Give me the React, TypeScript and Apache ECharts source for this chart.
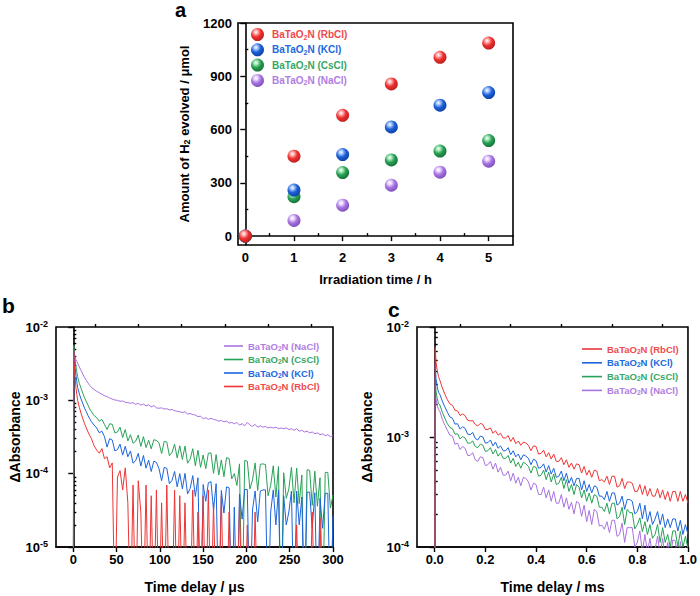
import React, { useEffect, useRef } from 'react';
import * as echarts from 'echarts';

const FONT = '"Liberation Sans", Arial, Helvetica, sans-serif';

// ---------- Panel a : H2 evolution ----------
const hours = [0, 1, 2, 3, 4, 5];
const h2RbCl = [0, 450, 680, 857, 1007, 1087];
const h2KCl = [0, 259, 459, 615, 737, 808];
const h2CsCl = [0, 222, 358, 429, 479, 538];
const h2NaCl = [0, 88, 174, 287, 360, 422];
const aXTicks = [0, 1, 2, 3, 4, 5];
const aXMinor = [0.5, 1.5, 2.5, 3.5, 4.5];
const aYTicks = [0, 300, 600, 900, 1200];
const aYMinor = [150, 450, 750, 1050];

// ---------- Panel b : µs decays (ΔAbs in units of 1e-5) ----------
const tB = [
  0, 0.5, 1, 2, 3, 4, 5, 7, 9, 11,
  13, 15, 17, 19, 21, 24, 27, 30, 33, 36,
  39, 42, 45, 48, 51, 54, 57, 60, 63, 66,
  69, 72, 75, 78, 81, 84, 87, 90, 93, 96,
  99, 102, 105, 108, 111, 114, 117, 120, 123, 126,
  129, 132, 135, 138, 141, 144, 147, 150, 153, 156,
  159, 162, 165, 168, 171, 174, 177, 180, 183, 186,
  189, 192, 195, 198, 201, 204, 207, 210, 213, 216,
  219, 222, 225, 228, 231, 234, 237, 240, 243, 246,
  249, 252, 255, 258, 261, 264, 267, 270, 273, 276,
  279, 282, 285, 288, 291, 294, 297, 300,
];
const bNaCl = [
  0.1, 460, 430, 390, 360, 340, 322, 285, 255, 228,
  205, 188, 172, 160, 150, 140, 133, 127, 121, 116,
  112, 108, 104, 101, 100, 97, 98, 94, 93, 91,
  93, 88, 91, 86, 89, 84, 87, 81, 85, 79,
  78, 79, 76, 77, 74, 75, 72, 71, 70, 68,
  70, 65, 66, 64, 63, 60, 61, 56, 58, 55,
  57, 55, 54, 52, 53, 51, 52, 49, 50, 48,
  50, 46, 48, 45, 50, 46, 44, 47, 43, 45,
  43, 44, 42, 43, 42, 43, 41, 42, 41, 42,
  40, 41, 39, 41, 38, 39, 37, 38, 36, 37,
  35, 36, 34, 35, 33, 34, 32, 33,
];
const bCsCl = [
  0.1, 560, 480, 360, 290, 245, 210, 170, 145, 125,
  108, 96, 86, 76, 70, 62, 58, 52, 55, 47,
  40, 48, 47, 36, 37, 43, 31, 40, 28, 34,
  26, 27.6, 33.6, 23.5, 32, 22.7, 28.6, 21.8, 29, 28.4,
  26.4, 18.8, 27.6, 27, 17.6, 19.4, 25.2, 16.4, 24, 15.6,
  23.8, 13.9, 15.8, 21.9, 12.8, 20.9, 12.2, 18, 11.7, 19,
  19.2, 10.1, 18.2, 9.6, 15.4, 9.1, 16.5, 16.1, 8.5, 10,
  6.9, 13.6, 0.1, 15.1, 14.8, 6.2, 8.2, 14, 5.9, 13.4,
  13.6, 13.3, 5, 6.9, 12.8, 4.8, 12.5, 0.1, 10.3, 4.6,
  6.2, 12.2, 4, 11.9, 3.9, 9.6, 0.1, 11.3, 11.1, 3.7,
  10.8, 3.6, 8.8, 0.1, 10.4, 10.4, 3.4, 5.1,
];
const bKCl = [
  0.1, 470, 400, 290, 220, 180, 150, 122, 104, 90,
  78, 70, 62, 56, 51, 46, 42, 36, 38, 32,
  23, 30, 28.8, 20.4, 21.3, 25.3, 17.9, 23.6, 17, 20.4,
  13.9, 15, 18.9, 12.7, 17.7, 11.9, 15.3, 10.7, 14.8, 14.2,
  11.7, 8, 12.2, 11.8, 7.3, 8.1, 10.7, 6.6, 10, 6.2,
  10.1, 5.3, 6.3, 9.4, 4.9, 8.8, 0.1, 7.1, 4.2, 7.5,
  7.8, 3.2, 7.3, 0.1, 5.9, 2.9, 6.6, 6.4, 0.1, 3.5,
  0.1, 5.3, 2.4, 6.1, 6.1, 0.1, 3.2, 5.8, 2.2, 5.8,
  6, 6, 0.1, 3, 6, 2, 6, 0.1, 5, 2,
  3, 5.8, 0.1, 5.8, 2, 4.8, 0.1, 5.6, 5.6, 1.8,
  5.5, 0.1, 4.6, 1.8, 5.4, 5.4, 0.1, 2.7,
];
const bRbCl = [
  0.1, 470, 330, 210, 150, 120, 100, 80, 66, 56,
  48, 42, 37, 33, 30, 24, 21, 19, 22, 16,
  17, 12, 14, 0.1, 9, 11, 6, 12, 4, 0.1,
  7, 0.1, 8, 3, 0.1, 7, 0.1, 5, 0.1, 6,
  0.1, 4, 0.1, 7, 0.1, 0.1, 6, 0.1, 5, 0.1,
  4, 0.1, 0.1, 6, 0.1, 3, 0.1, 5, 0.1, 6,
  0.1, 4, 0.1, 0.1, 5, 0.1, 0.1, 3, 0.1, 0.1,
  0.1, 4, 0.1, 0.1, 2, 0.1, 0.1, 3, 0.1, 0.1,
  0.1, 0.1, 0.1, 0.1, 0.1, 0.1, 0.1, 0.1, 0.1, 0.1,
  0.1, 0.1, 0.1, 2, 0.1, 0.1, 0.1, 0.1, 0.1, 3,
  0.1, 0.1, 2.5, 0.1, 0.1, 0.1, 0.1, 0.1,
];
const bXTicks = [0, 50, 100, 150, 200, 250, 300];
const bXMinor = [25, 75, 125, 175, 225, 275];
const bYMinor = [2e-5, 3e-5, 4e-5, 5e-5, 6e-5, 7e-5, 8e-5, 9e-5, 2e-4, 3e-4, 4e-4, 5e-4, 6e-4, 7e-4, 8e-4, 9e-4, 2e-3, 3e-3, 4e-3, 5e-3, 6e-3, 7e-3, 8e-3, 9e-3];

// ---------- Panel c : ms decays (ΔAbs in units of 1e-5) ----------
const tC = [
  0, 0.002, 0.005, 0.01, 0.015, 0.02, 0.03, 0.04, 0.05, 0.06,
  0.07, 0.08, 0.09, 0.1, 0.11, 0.12, 0.13, 0.14, 0.15, 0.16,
  0.17, 0.18, 0.19, 0.2, 0.21, 0.22, 0.23, 0.24, 0.25, 0.26,
  0.27, 0.28, 0.29, 0.3, 0.31, 0.32, 0.33, 0.34, 0.35, 0.36,
  0.37, 0.38, 0.39, 0.4, 0.41, 0.42, 0.43, 0.44, 0.45, 0.46,
  0.47, 0.48, 0.49, 0.5, 0.51, 0.52, 0.53, 0.54, 0.55, 0.56,
  0.57, 0.58, 0.59, 0.6, 0.61, 0.62, 0.63, 0.64, 0.65, 0.66,
  0.67, 0.68, 0.69, 0.7, 0.71, 0.72, 0.73, 0.74, 0.75, 0.76,
  0.77, 0.78, 0.79, 0.8, 0.81, 0.82, 0.83, 0.84, 0.85, 0.86,
  0.87, 0.88, 0.89, 0.9, 0.91, 0.92, 0.93, 0.94, 0.95, 0.96,
  0.97, 0.98, 0.99, 1.0,
];
const cRbCl = [
  1, 650, 480, 400, 355, 330, 280, 245, 218, 200,
  194, 175, 173, 157, 162, 156, 142, 140, 141, 130,
  126, 133, 130, 117, 117, 121, 108, 114, 104, 108,
  98, 98, 103, 91, 99, 87, 92, 84, 90, 88,
  84, 75, 83, 82, 70, 71, 76, 66, 72, 63,
  70, 60, 60, 65, 56, 62, 53, 58, 51, 57,
  56, 47, 54, 45, 50, 43, 50, 49, 40, 41,
  39, 44, 37, 44, 44, 35, 36, 42, 34, 39,
  39, 38, 32, 32, 37, 30, 36, 29, 34, 29,
  29, 34, 28, 33, 27, 32, 26, 32, 32, 26,
  32, 26, 30, 25,
];
const cKCl = [
  1, 460, 340, 285, 255, 245, 212, 188, 168, 152,
  148, 131, 132, 118, 124, 120, 106, 105, 110, 97,
  94, 102, 100, 88, 89, 94, 83, 90, 79, 83,
  75, 75, 80, 69, 75, 66, 70, 62, 69, 67,
  64, 56, 63, 61, 52, 53, 57, 48, 55, 46,
  52, 43, 44, 49, 40, 47, 38, 43, 36, 42,
  42, 33, 40, 32, 37, 31, 36, 35, 29, 29,
  27, 32, 26, 31, 31, 24, 25, 29, 22, 27,
  27, 26, 20, 21, 25, 18, 24, 17, 21, 16,
  18, 21, 16, 20, 15, 18, 15, 18, 18, 14,
  17.5, 13, 16, 13,
];
const cCsCl = [
  1, 350, 262, 222, 202, 196, 168, 148, 132, 122,
  119, 106, 107, 96, 101, 98, 88, 88, 92, 82,
  80, 86, 84, 74, 75, 80, 70, 77, 67, 72,
  64, 64, 68, 58, 64, 54, 59, 52, 59, 57,
  54, 47, 54, 53, 44, 45, 50, 41, 48, 39,
  46, 37, 38, 43, 34, 41, 32, 37, 30, 37,
  35, 28, 33, 26, 31, 25, 30, 29, 23, 23,
  21, 25, 20, 25, 25, 18, 19, 23, 16, 22,
  20.5, 20.5, 14.6, 16, 18.4, 13.8, 17, 13, 16, 12,
  13, 16, 11, 15, 11, 13, 10, 14, 14, 10,
  14, 10, 12.5, 9.6,
];
const cNaCl = [
  1, 300, 222, 192, 178, 172, 145, 128, 115, 104,
  102, 86, 88, 77, 82, 79, 68, 68, 72, 62,
  60, 66, 65, 55, 56, 60, 51, 58, 48, 53,
  45, 45, 49, 40, 47, 38, 43, 36, 43, 42,
  39, 33, 38, 37, 30, 30, 35, 28, 33, 26,
  32, 25, 25, 30, 23, 28, 22, 25.5, 20, 26,
  25, 19, 24, 17, 21.5, 16, 22, 21, 15.5, 15.8,
  14.5, 17, 13.5, 17.5, 17.5, 12.5, 13, 16.5, 11, 15,
  15, 15, 10, 11, 14, 9, 13, 9, 12, 8.3,
  9.5, 12.5, 8.5, 12, 8, 11, 7.8, 11.6, 11.4, 7.2,
  11.2, 7, 10, 7,
];
const cXTicks = [0, 0.2, 0.4, 0.6, 0.8, 1.0];
const cXMinor = [0.1, 0.3, 0.5, 0.7, 0.9];
const cYMinor = [2e-4, 3e-4, 4e-4, 5e-4, 6e-4, 7e-4, 8e-4, 9e-4, 2e-3, 3e-3, 4e-3, 5e-3, 6e-3, 7e-3, 8e-3, 9e-3];

const SCALE = 1e-5;

const salts: Record<string, string> = { Rb: 'RbCl', K: 'KCl', Cs: 'CsCl', Na: 'NaCl' };
const lineColor: Record<string, string> = { Rb: '#ee3535', K: '#1c64dc', Cs: '#27a157', Na: '#a972e0' };
const textColor: Record<string, string> = { Rb: '#f04a4e', K: '#2069e0', Cs: '#38a766', Na: '#b17de2' };
const ball: Record<string, [string, string, string]> = {
  Rb: ['#ffb8b8', '#ee3030', '#b51c1c'],
  K: ['#aecbff', '#1b60d8', '#0d3d9e'],
  Cs: ['#b0ecc2', '#28a052', '#146b36'],
  Na: ['#ecdcff', '#a874e0', '#7648b4'],
};

function legendRich(size: number, lh: number) {
  const r: any = {};
  Object.keys(salts).forEach((k) => {
    r[k] = { color: textColor[k], fontSize: size, fontWeight: 'bold', fontFamily: FONT, lineHeight: lh };
    r[k + 's'] = { color: textColor[k], fontSize: size * 0.7, fontWeight: 'bold', fontFamily: FONT, lineHeight: 6, verticalAlign: 'bottom' };
  });
  return r;
}
const legendFmt = (name: string) => {
  const k = name.slice(1);
  return `{${k}|BaTaO}{${k}s|2}{${k}|N (${salts[k]})}`;
};

const logRich = {
  b: { fontSize: 13, fontWeight: 'bold', fontFamily: FONT, color: '#000', lineHeight: 16 },
  s: { fontSize: 9, fontWeight: 'bold', fontFamily: FONT, color: '#000', lineHeight: 8, verticalAlign: 'top' },
};
const logFmt = (v: number) => `{b|10}{s|${Math.round(Math.log10(v))}}`;

const axLine = { show: true, lineStyle: { color: '#000', width: 1.6 } };
const tickStyle = { color: '#000', width: 1.4 };
const labelStyle = { color: '#000', fontSize: 13, fontWeight: 'bold', fontFamily: FONT };
const nameStyle = { color: '#000', fontSize: 13, fontWeight: 'bold', fontFamily: FONT };

function majorAxis(gridIndex: number, type: string, min: number, max: number, ticks: number[] | null, extra: any = {}) {
  const ax: any = {
    gridIndex, type, min, max,
    axisLine: axLine,
    splitLine: { show: false },
    axisTick: { show: true, length: 5, lineStyle: tickStyle },
    ...extra,
  };
  ax.axisLabel = { ...labelStyle, margin: 6, ...(extra.axisLabel || {}) };
  if (ticks) {
    ax.axisTick.customValues = ticks;
    ax.axisLabel.customValues = ticks;
  }
  return ax;
}
function minorAxis(gridIndex: number, min: number, max: number, ticks: number[]) {
  return {
    gridIndex, type: 'value', min, max,
    axisLine: { show: false },
    splitLine: { show: false },
    axisLabel: { show: false },
    axisTick: { show: true, length: 3, lineStyle: tickStyle, customValues: ticks },
  };
}
// minor ticks of a decade axis, placed on a companion linear axis spanning log10(min)..log10(max)
function logMinorAxis(gridIndex: number, min: number, max: number, ticks: number[]) {
  return minorAxis(gridIndex, Math.log10(min), Math.log10(max), ticks.map((v) => Math.log10(v)));
}

function sphere(k: string) {
  const [l, m, d] = ball[k];
  return {
    type: 'radial', x: 0.38, y: 0.32, r: 0.75,
    colorStops: [
      { offset: 0, color: '#ffffff' },
      { offset: 0.18, color: l },
      { offset: 0.5, color: m },
      { offset: 1, color: d },
    ],
  };
}

const aSeries = [
  ['Na', h2NaCl], ['Cs', h2CsCl], ['K', h2KCl], ['Rb', h2RbCl],
].map(([k, vals]: any) => ({
  name: 'a' + k,
  type: 'scatter',
  xAxisIndex: 0, yAxisIndex: 0,
  symbolSize: 13,
  itemStyle: { color: sphere(k), opacity: 1 },
  data: hours.map((h, i) => [h, vals[i]]),
}));

function lineSeries(prefix: string, k: string, t: number[], vals: number[], xi: number, yi: number) {
  return {
    name: prefix + k,
    type: 'line',
    xAxisIndex: xi, yAxisIndex: yi,
    symbol: 'none',
    clip: true,
    lineStyle: { color: lineColor[k], width: 1 },
    itemStyle: { color: lineColor[k] },
    data: t.map((x, i) => [x, vals[i] * SCALE]),
  };
}

const bSeries = [
  lineSeries('b', 'Na', tB, bNaCl, 2, 2),
  lineSeries('b', 'Cs', tB, bCsCl, 2, 2),
  lineSeries('b', 'K', tB, bKCl, 2, 2),
  lineSeries('b', 'Rb', tB, bRbCl, 2, 2),
];
const cSeries = [
  lineSeries('c', 'Na', tC, cNaCl, 4, 4),
  lineSeries('c', 'Cs', tC, cCsCl, 4, 4),
  lineSeries('c', 'K', tC, cKCl, 4, 4),
  lineSeries('c', 'Rb', tC, cRbCl, 4, 4),
];

const gridBox = { show: true, borderColor: '#000', borderWidth: 1.6, backgroundColor: 'transparent' };

const lineLegend = (left: number, top: number, gap: number, width: number, names: string[]) => ({
  left, top, orient: 'vertical', padding: 0, itemGap: gap,
  itemWidth: width, itemHeight: 1.6, icon: 'rect',
  data: names.map((n) => ({ name: n, itemStyle: { color: lineColor[n.slice(1)] } })),
  formatter: legendFmt,
  textStyle: { rich: legendRich(9.5, 11) },
  selectedMode: false,
});

const option: any = {
  animation: false,
  backgroundColor: '#ffffff',
  grid: [
    { left: 238, top: 23, width: 275, height: 222, ...gridBox },
    { left: 56, top: 327, width: 277, height: 220, ...gridBox },
    { left: 417, top: 327, width: 275, height: 220, ...gridBox },
  ],
  xAxis: [
    majorAxis(0, 'value', -0.15, 5.5, aXTicks, {
      name: 'Irradiation time / h', nameLocation: 'middle', nameGap: 28, nameTextStyle: nameStyle,
    }),
    minorAxis(0, -0.15, 5.5, aXMinor),
    majorAxis(1, 'value', -20, 300, bXTicks, {
      name: 'Time delay / \u03bcs', nameLocation: 'middle', nameGap: 33,
      nameTextStyle: { ...nameStyle, fontSize: 14 },
    }),
    minorAxis(1, -20, 300, bXMinor),
    majorAxis(2, 'value', -0.07, 1.0, cXTicks, {
      name: 'Time delay / ms', nameLocation: 'middle', nameGap: 33,
      nameTextStyle: { ...nameStyle, fontSize: 14 },
      axisLabel: { formatter: (v: number) => v.toFixed(1) },
    }),
    minorAxis(2, -0.07, 1.0, cXMinor),
  ],
  yAxis: [
    majorAxis(0, 'value', -50, 1200, aYTicks, {
      name: 'Amount of H{s|2} evolved / \u03bcmol', nameLocation: 'middle', nameGap: 47,
      nameTextStyle: { ...nameStyle, rich: { s: { ...nameStyle, fontSize: 9, lineHeight: 6, verticalAlign: 'bottom' } } },
      axisLabel: { formatter: (v: number) => String(v) },
    }),
    minorAxis(0, -50, 1200, aYMinor),
    majorAxis(1, 'log', 1e-5, 1e-2, null, {
      logBase: 10,
      name: '\u0394Absorbance', nameLocation: 'middle', nameGap: 33,
      nameTextStyle: { ...nameStyle, fontSize: 14 },
      axisLabel: { formatter: logFmt, rich: logRich, margin: 8 },
    }),
    logMinorAxis(1, 1e-5, 1e-2, bYMinor),
    majorAxis(2, 'log', 1e-4, 1e-2, null, {
      logBase: 10,
      name: '\u0394Absorbance', nameLocation: 'middle', nameGap: 43,
      nameTextStyle: { ...nameStyle, fontSize: 14 },
      axisLabel: { formatter: logFmt, rich: logRich, margin: 8 },
    }),
    logMinorAxis(2, 1e-4, 1e-2, cYMinor),
  ],
  legend: [
    {
      left: 251, top: 28, orient: 'vertical', padding: 0, itemGap: 2.3,
      itemWidth: 13, itemHeight: 13,
      data: ['aRb', 'aK', 'aCs', 'aNa'],
      formatter: legendFmt,
      textStyle: { rich: legendRich(10, 12), padding: [0, 0, 0, 3] },
      selectedMode: false,
    },
    lineLegend(224, 341, 3, 19, ['bNa', 'bCs', 'bK', 'bRb']),
    lineLegend(582, 344, 3.3, 20, ['cRb', 'cK', 'cCs', 'cNa']),
  ],
  graphic: [
    { type: 'text', x: 175, y: 0, style: { text: 'a', font: `bold 20px ${FONT}`, fill: '#000', verticalAlign: 'top' } },
    { type: 'text', x: 2, y: 305, style: { text: 'b', font: `bold 21px ${FONT}`, fill: '#000', verticalAlign: 'middle' } },
    { type: 'text', x: 388, y: 309, style: { text: 'c', font: `bold 21px ${FONT}`, fill: '#000', verticalAlign: 'middle' } },
  ],
  series: [...aSeries, ...bSeries, ...cSeries],
};

export default function App() {
  const ref = useRef<HTMLDivElement>(null);
  useEffect(() => {
    const chart = echarts.init(ref.current!, undefined, { renderer: 'svg' });
    chart.setOption(option);
    return () => chart.dispose();
  }, []);
  return (
    <div
      ref={ref}
      style={{ position: 'absolute', left: 0, top: 0, width: 700, height: 596, background: '#fff' }}
    />
  );
}
